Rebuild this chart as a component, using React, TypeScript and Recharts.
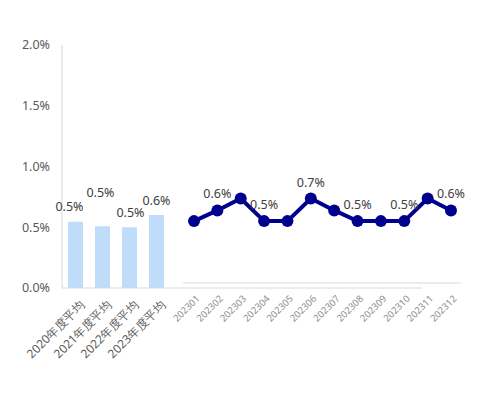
import React from 'react';
import { ComposedChart, Bar, Line, XAxis, YAxis } from 'recharts';

const yearCategories = ['2020年度平均', '2021年度平均', '2022年度平均', '2023年度平均'];
const yearValues = [0.546, 0.508, 0.5, 0.6];
const monthCategories = ['202301', '202302', '202303', '202304', '202305', '202306', '202307', '202308', '202309', '202310', '202311', '202312'];
const monthValues = [0.52, 0.61, 0.71, 0.52, 0.52, 0.71, 0.61, 0.52, 0.52, 0.52, 0.71, 0.61];
const yTicks = [0, 0.5, 1, 1.5, 2];

const FONT = '"Noto Sans", sans-serif';

const barData = yearCategories.map((name, i) => ({ name, value: yearValues[i] }));
const lineData = monthCategories.map((name, i) => ({ name, value: monthValues[i] }));

// bar label nudges, the second one sits higher in the original
const barLabelShift = [
  { dx: -6, dy: 11 },
  { dx: -2, dy: 29 },
  { dx: 1, dy: 10 },
  { dx: 0, dy: 10 },
];

const fmt = (v: number) => `${v.toFixed(1)}%`;

const BarValueLabel = (props: any) => {
  const { x, y, width, value, index } = props;
  const s = barLabelShift[index] || { dx: 0, dy: 10 };
  return (
    <text x={x + width / 2 + s.dx} y={y - s.dy} textAnchor="middle" fill="#404040" fontSize={12.5} fontFamily={FONT}>
      {fmt(value)}
    </text>
  );
};

const LineValueLabel = (props: any) => {
  const { x, y, value, index } = props;
  if (index % 2 === 0) return <g />;
  return (
    <text x={x} y={y - 12} textAnchor="middle" fill="#404040" fontSize={12.5} fontFamily={FONT}>
      {fmt(value)}
    </text>
  );
};

const YearTick = (props: any) => {
  const { x, y, payload } = props;
  return (
    <g transform={`translate(${x + 4},${y + 4})`}>
      <text transform="rotate(-45)" textAnchor="end" dy={8} fill="#595959" fontSize={12} fontFamily={FONT}>
        {payload.value}
      </text>
    </g>
  );
};

const MonthTick = (props: any) => {
  const { x, y, payload } = props;
  return (
    <g transform={`translate(${x + 2},${y + 4})`}>
      <text transform="rotate(-45)" textAnchor="end" dy={6} fill="#8c8c8c" fontSize={9.5} fontFamily={FONT}>
        {payload.value}
      </text>
    </g>
  );
};

export default function App() {
  return (
    <div style={{ position: 'absolute', left: 0, top: 0, width: 480, height: 395, background: '#fff' }}>
      <div style={{ position: 'absolute', left: 0, top: 0 }}>
        <ComposedChart width={480} height={395} data={barData} margin={{ top: 45, right: 58, bottom: 27, left: 0 }}>
          <YAxis
            domain={[0, 2]}
            ticks={yTicks}
            width={62}
            tickFormatter={fmt}
            axisLine={{ stroke: '#d9d9d9' }}
            tickLine={false}
            tickMargin={6}
            tick={{ fill: '#595959', fontSize: 12.5, fontFamily: FONT }}
          />
          <XAxis
            dataKey="name"
            height={80}
            interval={0}
            padding={{ left: 0, right: 252 }}
            axisLine={{ stroke: '#d9d9d9' }}
            tickLine={false}
            tick={<YearTick />}
          />
          <Bar dataKey="value" fill="#bfddfb" barSize={15} isAnimationActive={false} label={<BarValueLabel />} />
        </ComposedChart>
      </div>
      <div style={{ position: 'absolute', left: 0, top: 0 }}>
        <ComposedChart width={480} height={395} data={lineData} margin={{ top: 45, right: 19, bottom: 32, left: 183 }}>
          <YAxis hide domain={[0, 2]} />
          <XAxis
            dataKey="name"
            height={80}
            interval={0}
            padding={{ left: 11, right: 10 }}
            axisLine={{ stroke: '#d9d9d9' }}
            tickLine={false}
            tick={<MonthTick />}
          />
          <Line
            dataKey="value"
            stroke="#00008f"
            strokeWidth={4}
            dot={{ r: 6, fill: '#00008f', stroke: '#00008f', strokeWidth: 0 }}
            isAnimationActive={false}
            label={<LineValueLabel />}
          />
        </ComposedChart>
      </div>
    </div>
  );
}
